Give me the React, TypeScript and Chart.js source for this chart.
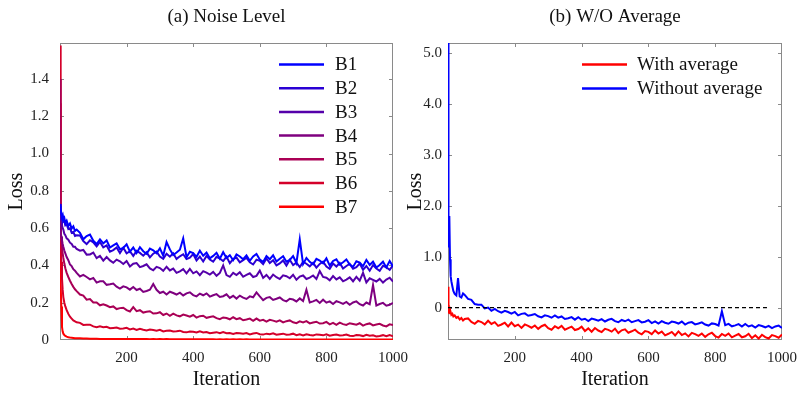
import React, { useEffect, useRef } from 'react';
import { Chart, registerables } from 'chart.js';

Chart.register(...registerables);

const FONT = '"Liberation Serif", "Times New Roman", serif';

// Iterations (x values) shared by all curves
const ITER = [
  0, 1, 2, 3, 4, 6, 8, 10, 13, 16, 20, 25, 30, 35, 40, 45, 50,
  60, 70, 80, 90, 100, 110, 120, 130, 140, 150,
  160, 170, 180, 190, 200, 210, 220, 230, 240, 250,
  260, 270, 280, 290, 300, 310, 320, 330, 340, 350,
  360, 370, 380, 390, 400, 410, 420, 430, 440, 450,
  460, 470, 480, 490, 500, 510, 520, 530, 540, 550,
  560, 570, 580, 590, 600, 610, 620, 630, 640, 650,
  660, 670, 680, 690, 700, 710, 720, 730, 740, 750,
  760, 770, 780, 790, 800, 810, 820, 830, 840, 850,
  860, 870, 880, 890, 900, 910, 920, 930, 940, 950,
  960, 970, 980, 990, 1000,
];

// (a) Noise Level
const B_LABELS = ['B1', 'B2', 'B3', 'B4', 'B5', 'B6', 'B7'];
const B_COLORS = ['#0000ff', '#2a00d4', '#5500aa', '#7f007f', '#aa0055', '#d4002a', '#ff0000'];

const B1 = [
  0.73, 0.715, 0.70, 0.705, 0.68, 0.665, 0.672, 0.645, 0.655, 0.628, 0.64, 0.612, 0.625, 0.598, 0.61, 0.585, 0.592,
  0.575, 0.540, 0.558, 0.566, 0.532, 0.515, 0.540, 0.518, 0.534, 0.496,
  0.507, 0.518, 0.487, 0.494, 0.513, 0.474, 0.496, 0.466, 0.498, 0.476,
  0.462, 0.490, 0.481, 0.465, 0.492, 0.452, 0.525, 0.486, 0.456, 0.469,
  0.484, 0.545, 0.444, 0.473, 0.466, 0.446, 0.479, 0.452, 0.469, 0.438,
  0.451, 0.468, 0.436, 0.471, 0.440, 0.455, 0.428, 0.459, 0.448, 0.433,
  0.454, 0.425, 0.448, 0.461, 0.432, 0.419, 0.450, 0.433, 0.454, 0.421,
  0.436, 0.449, 0.420, 0.429, 0.450, 0.413, 0.540, 0.407, 0.440, 0.419,
  0.406, 0.435, 0.426, 0.411, 0.438, 0.399, 0.424, 0.433, 0.404, 0.417,
  0.432, 0.405, 0.392, 0.422, 0.415, 0.396, 0.429, 0.403, 0.420, 0.389,
  0.402, 0.420, 0.389, 0.424, 0.394,
];
const B2 = [
  0.72, 0.70, 0.695, 0.68, 0.675, 0.655, 0.66, 0.635, 0.64, 0.615, 0.62, 0.595, 0.6, 0.575, 0.58, 0.558, 0.562,
  0.561, 0.531, 0.514, 0.535, 0.524, 0.502, 0.526, 0.497, 0.507, 0.474,
  0.482, 0.496, 0.466, 0.495, 0.465, 0.476, 0.451, 0.478, 0.467, 0.452,
  0.470, 0.443, 0.463, 0.474, 0.448, 0.435, 0.463, 0.447, 0.465, 0.435,
  0.449, 0.460, 0.434, 0.442, 0.461, 0.427, 0.447, 0.421, 0.451, 0.432,
  0.420, 0.446, 0.437, 0.423, 0.447, 0.412, 0.434, 0.442, 0.416, 0.428,
  0.441, 0.417, 0.405, 0.431, 0.425, 0.407, 0.437, 0.413, 0.428, 0.400,
  0.411, 0.427, 0.399, 0.430, 0.402, 0.415, 0.391, 0.419, 0.409, 0.395,
  0.414, 0.388, 0.408, 0.420, 0.394, 0.382, 0.410, 0.394, 0.413, 0.383,
  0.397, 0.408, 0.382, 0.391, 0.410, 0.377, 0.397, 0.372, 0.402, 0.383,
  0.371, 0.398, 0.390, 0.376, 0.401,
];
const B3 = [
  0.70, 0.685, 0.665, 0.655, 0.635, 0.615, 0.6, 0.592, 0.57, 0.562, 0.545, 0.538, 0.522, 0.515, 0.5, 0.5, 0.488,
  0.479, 0.483, 0.458, 0.459, 0.469, 0.439, 0.451, 0.426, 0.445, 0.427,
  0.414, 0.431, 0.422, 0.408, 0.424, 0.394, 0.409, 0.413, 0.391, 0.397,
  0.406, 0.384, 0.374, 0.392, 0.386, 0.371, 0.393, 0.373, 0.383, 0.360,
  0.368, 0.380, 0.357, 0.381, 0.358, 0.368, 0.348, 0.369, 0.361, 0.351,
  0.365, 0.344, 0.360, 0.400, 0.348, 0.339, 0.360, 0.348, 0.363, 0.339,
  0.349, 0.358, 0.338, 0.344, 0.372, 0.333, 0.349, 0.328, 0.351, 0.337,
  0.327, 0.347, 0.342, 0.331, 0.350, 0.323, 0.340, 0.346, 0.327, 0.335,
  0.346, 0.327, 0.370, 0.338, 0.334, 0.320, 0.343, 0.325, 0.336, 0.315,
  0.324, 0.336, 0.315, 0.339, 0.318, 0.360, 0.309, 0.331, 0.323, 0.314,
  0.328, 0.308, 0.324, 0.334, 0.313,
];
const B4 = [
  0.62, 0.6, 0.585, 0.57, 0.555, 0.535, 0.515, 0.5, 0.48, 0.465, 0.445, 0.428, 0.405, 0.396, 0.38, 0.372, 0.36,
  0.341, 0.349, 0.338, 0.325, 0.333, 0.308, 0.315, 0.315, 0.296, 0.299,
  0.303, 0.286, 0.276, 0.288, 0.282, 0.270, 0.284, 0.268, 0.275, 0.258,
  0.263, 0.270, 0.300, 0.269, 0.252, 0.259, 0.244, 0.259, 0.252, 0.244,
  0.254, 0.239, 0.250, 0.256, 0.241, 0.234, 0.249, 0.240, 0.250, 0.233,
  0.240, 0.246, 0.231, 0.235, 0.245, 0.226, 0.237, 0.222, 0.238, 0.227,
  0.220, 0.234, 0.229, 0.255, 0.234, 0.214, 0.226, 0.230, 0.215, 0.221,
  0.228, 0.214, 0.207, 0.221, 0.217, 0.207, 0.223, 0.209, 0.270, 0.201,
  0.207, 0.215, 0.199, 0.216, 0.200, 0.207, 0.193, 0.208, 0.202, 0.194,
  0.204, 0.189, 0.201, 0.207, 0.192, 0.185, 0.201, 0.192, 0.295, 0.185,
  0.193, 0.199, 0.184, 0.189, 0.199,
];
const B5 = [
  1.4, 0.85, 0.65, 0.58, 0.545, 0.5, 0.465, 0.44, 0.41, 0.385, 0.36, 0.338, 0.318, 0.3, 0.285, 0.272, 0.262,
  0.244, 0.238, 0.216, 0.220, 0.201, 0.201, 0.186, 0.192, 0.185, 0.176,
  0.180, 0.166, 0.171, 0.173, 0.160, 0.153, 0.176, 0.155, 0.160, 0.147,
  0.151, 0.154, 0.142, 0.143, 0.149, 0.134, 0.142, 0.130, 0.141, 0.132,
  0.127, 0.136, 0.131, 0.125, 0.134, 0.120, 0.128, 0.130, 0.119, 0.123,
  0.127, 0.117, 0.112, 0.121, 0.118, 0.111, 0.122, 0.112, 0.117, 0.106,
  0.110, 0.115, 0.103, 0.115, 0.104, 0.108, 0.098, 0.108, 0.104, 0.098,
  0.105, 0.094, 0.101, 0.105, 0.095, 0.090, 0.100, 0.094, 0.101, 0.089,
  0.094, 0.098, 0.088, 0.090, 0.097, 0.084, 0.092, 0.081, 0.093, 0.085,
  0.081, 0.090, 0.086, 0.082, 0.090, 0.077, 0.085, 0.089, 0.078, 0.083,
  0.087, 0.078, 0.073, 0.084, 0.080,
];
const B6 = [
  1.58, 1.0, 0.7, 0.52, 0.42, 0.33, 0.27, 0.23, 0.2, 0.18, 0.16, 0.14, 0.125, 0.115, 0.105, 0.1, 0.095,
  0.092, 0.081, 0.082, 0.082, 0.073, 0.069, 0.073, 0.068, 0.071, 0.063,
  0.065, 0.067, 0.061, 0.062, 0.065, 0.057, 0.061, 0.054, 0.060, 0.055,
  0.051, 0.056, 0.054, 0.050, 0.055, 0.046, 0.050, 0.051, 0.046, 0.047,
  0.050, 0.043, 0.041, 0.046, 0.044, 0.040, 0.046, 0.040, 0.043, 0.036,
  0.039, 0.042, 0.036, 0.042, 0.036, 0.038, 0.033, 0.038, 0.036, 0.033,
  0.037, 0.030, 0.035, 0.038, 0.031, 0.029, 0.034, 0.031, 0.036, 0.028,
  0.031, 0.034, 0.028, 0.030, 0.034, 0.026, 0.031, 0.025, 0.031, 0.027,
  0.024, 0.030, 0.028, 0.025, 0.031, 0.023, 0.027, 0.029, 0.024, 0.026,
  0.029, 0.023, 0.021, 0.027, 0.025, 0.021, 0.028, 0.023, 0.025, 0.019,
  0.022, 0.026, 0.020, 0.026, 0.020,
];
const B7 = [
  1.27, 0.85, 0.55, 0.3, 0.18, 0.07, 0.045, 0.034, 0.027, 0.022, 0.018, 0.015, 0.013, 0.012, 0.011, 0.01, 0.009,
  0.009, 0.008, 0.008, 0.007, 0.007, 0.007, 0.006, 0.006, 0.006, 0.006,
  0.006, 0.005, 0.006, 0.005, 0.005, 0.005, 0.005, 0.005, 0.005, 0.005,
  0.005, 0.004, 0.005, 0.004, 0.005, 0.004, 0.005, 0.004, 0.004, 0.004,
  0.004, 0.004, 0.004, 0.004, 0.004, 0.004, 0.004, 0.004, 0.004, 0.004,
  0.004, 0.003, 0.004, 0.003, 0.004, 0.003, 0.004, 0.003, 0.004, 0.003,
  0.004, 0.003, 0.003, 0.003, 0.003, 0.003, 0.003, 0.003, 0.003, 0.003,
  0.003, 0.003, 0.003, 0.003, 0.003, 0.003, 0.003, 0.003, 0.003, 0.003,
  0.003, 0.003, 0.003, 0.003, 0.003, 0.003, 0.003, 0.003, 0.003, 0.003,
  0.003, 0.003, 0.003, 0.003, 0.003, 0.003, 0.003, 0.003, 0.003, 0.003,
  0.003, 0.003, 0.003, 0.003, 0.003,
];
const B_SERIES = [B1, B2, B3, B4, B5, B6, B7];

// (b) W/O Average
const WITH_AVG = [
  0.41, 0.05, -0.06, -0.1, -0.07, -0.11, -0.09, -0.14, -0.12, -0.17, -0.15, -0.2, -0.18, -0.23, -0.2, -0.25, -0.22,
  -0.21, -0.278, -0.315, -0.258, -0.281, -0.327, -0.255, -0.319, -0.283, -0.356,
  -0.329, -0.294, -0.366, -0.29, -0.363, -0.332, -0.395, -0.328, -0.356, -0.392,
  -0.348, -0.414, -0.363, -0.335, -0.401, -0.431, -0.363, -0.402, -0.356, -0.432,
  -0.399, -0.37, -0.437, -0.418, -0.371, -0.456, -0.405, -0.471, -0.399, -0.447,
  -0.477, -0.413, -0.434, -0.469, -0.41, -0.498, -0.443, -0.424, -0.49, -0.462,
  -0.43, -0.491, -0.521, -0.458, -0.474, -0.518, -0.445, -0.507, -0.469, -0.541,
  -0.511, -0.474, -0.544, -0.465, -0.536, -0.503, -0.563, -0.493, -0.518, -0.553,
  -0.506, -0.571, -0.52, -0.49, -0.556, -0.585, -0.515, -0.553, -0.506, -0.58,
  -0.546, -0.516, -0.58, -0.56, -0.511, -0.594, -0.541, -0.605, -0.53, -0.576,
  -0.603, -0.537, -0.556, -0.589, -0.527,
];
const WITHOUT_AVG = [
  5.25, 4.2, 1.35, 1.2, 1.8, 0.95, 0.62, 0.52, 0.42, 0.33, 0.27, 0.24, 0.58, 0.22, 0.2, 0.28, 0.25,
  0.173, 0.154, 0.072, 0.057, 0.06, -0.014, 0.002, -0.06, -0.024, -0.069,
  -0.097, -0.062, -0.084, -0.115, -0.083, -0.15, -0.121, -0.111, -0.158, -0.142,
  -0.123, -0.167, -0.19, -0.15, -0.164, -0.196, -0.15, -0.194, -0.172, -0.222,
  -0.206, -0.184, -0.234, -0.185, -0.235, -0.216, -0.26, -0.214, -0.232, -0.256,
  -0.225, -0.27, -0.237, -0.219, -0.264, -0.285, -0.24, -0.266, -0.235, -0.285,
  -0.263, -0.244, -0.288, -0.275, -0.244, -0.301, -0.268, -0.312, -0.263, -0.295,
  -0.315, -0.272, -0.286, -0.31, -0.271, -0.33, -0.294, -0.282, -0.327, -0.309,
  -0.288, -0.33, -0.35, -0.308, -0.32, -0.349, -0.07, -0.342, -0.318, -0.365,
  -0.346, -0.322, -0.37, -0.319, -0.367, -0.346, -0.388, -0.342, -0.36, -0.384,
  -0.355, -0.4, -0.367, -0.35, -0.397,
];
const AVG_LABELS = ['With average', 'Without average'];
const AVG_COLORS = ['#ff0000', '#0000ff'];
const REF_X = [0, 955];
const REF_Y = [0, 0];

const X_TICK_STEP = 200;

const toPoints = (xs: number[], ys: number[]) => xs.map((x, i) => ({ x, y: ys[i] }));

const decorPlugin = {
  id: 'decor',
  beforeDatasetsDraw(chart: any) {
    const { ctx, chartArea } = chart;
    const { left, right, top, bottom } = chartArea;
    ctx.save();
    ctx.strokeStyle = '#8a8a8a';
    ctx.lineWidth = 1;
    ctx.strokeRect(Math.round(left) + 0.5, Math.round(top) + 0.5, Math.round(right - left) - 1, Math.round(bottom - top) - 1);
    const xs = chart.scales.x;
    const ys = chart.scales.y;
    const tl = 4;
    ctx.beginPath();
    xs.ticks.forEach((t: any) => {
      const p = Math.round(xs.getPixelForValue(t.value)) + 0.5;
      if (p <= left + 1 || p >= right - 1) return;
      ctx.moveTo(p, bottom);
      ctx.lineTo(p, bottom - tl);
      ctx.moveTo(p, top);
      ctx.lineTo(p, top + tl);
    });
    ys.ticks.forEach((t: any) => {
      const p = Math.round(ys.getPixelForValue(t.value)) + 0.5;
      if (p <= top + 1 || p >= bottom - 1) return;
      ctx.moveTo(left, p);
      ctx.lineTo(left + tl, p);
      ctx.moveTo(right, p);
      ctx.lineTo(right - tl, p);
    });
    ctx.stroke();
    ctx.restore();
  },
  afterDraw(chart: any, _args: any, opts: any) {
    const { ctx, chartArea } = chart;
    const { left, right } = chartArea;
    ctx.save();
    ctx.fillStyle = '#111';
    ctx.font = `19px ${FONT}`;
    ctx.textAlign = 'center';
    ctx.textBaseline = 'middle';
    ctx.fillText(opts.title, (left + right) / 2, 17);
    const lg = opts.legend;
    ctx.font = `${lg.fontSize}px ${FONT}`;
    ctx.textAlign = 'left';
    lg.labels.forEach((lab: string, i: number) => {
      const y = lg.y + i * lg.spacing;
      ctx.strokeStyle = lg.colors[i];
      ctx.lineWidth = 2.5;
      ctx.beginPath();
      ctx.moveTo(lg.x, y);
      ctx.lineTo(lg.x + lg.len, y);
      ctx.stroke();
      ctx.fillStyle = '#111';
      ctx.fillText(lab, lg.x + lg.len + lg.gap, y + 1);
    });
    ctx.restore();
  },
};

function baseOptions(cfg: any) {
  return {
    responsive: false,
    animation: false,
    devicePixelRatio: 1,
    layout: { padding: cfg.padding },
    plugins: {
      legend: { display: false },
      tooltip: { enabled: false },
      decor: cfg.decor,
    },
    elements: { point: { radius: 0 }, line: { tension: 0 } },
    scales: {
      x: {
        type: 'linear',
        min: 0,
        max: 1000,
        grid: { display: false, drawTicks: false },
        border: { display: false },
        afterFit: (s: any) => { s.height = 55; s.paddingLeft = 0; s.paddingRight = 0; },
        ticks: {
          stepSize: X_TICK_STEP,
          padding: 9,
          color: '#222',
          maxRotation: 0,
          autoSkip: false,
          includeBounds: false,
          font: { family: FONT, size: 15 },
          callback: (v: any) => (v === 0 ? '' : String(v)),
        },
        title: {
          display: true,
          text: 'Iteration',
          color: '#111',
          font: { family: FONT, size: 20 },
          padding: { top: 0, bottom: 3 },
        },
      },
      y: {
        type: 'linear',
        min: cfg.yMin,
        max: cfg.yMax,
        grid: { display: false, drawTicks: false },
        border: { display: false },
        afterFit: (s: any) => { s.width = cfg.yWidth; s.paddingTop = 0; s.paddingBottom = 0; },
        ticks: {
          stepSize: cfg.yStep,
          padding: cfg.yPad,
          color: '#222',
          autoSkip: false,
          includeBounds: false,
          font: { family: FONT, size: 15 },
          callback: (v: any) => (Math.abs(v) < 1e-9 ? '0' : Number(v).toFixed(1)),
        },
        title: {
          display: true,
          text: 'Loss',
          color: '#111',
          font: { family: FONT, size: 20 },
          padding: { top: cfg.lossPad, bottom: 0 },
        },
      },
    },
  };
}

function NoiseChart() {
  const ref = useRef<HTMLCanvasElement>(null);
  useEffect(() => {
    const datasets = B_SERIES.map((s, i) => ({
      label: B_LABELS[i],
      data: toPoints(ITER, s),
      borderColor: B_COLORS[i],
      borderWidth: 2,
      pointRadius: 0,
      fill: false,
    }));
    const chart = new Chart(ref.current as HTMLCanvasElement, {
      type: 'line',
      data: { datasets },
      options: baseOptions({
        padding: { top: 43, right: 27, left: 0, bottom: 0 },
        yMin: 0, yMax: 1.593, yStep: 0.2, yWidth: 60, yPad: 11, lossPad: 5,
        decor: {
          title: '(a) Noise Level',
          legend: { labels: B_LABELS, colors: B_COLORS, x: 279, y: 64.5, spacing: 23.7, len: 45, gap: 11, fontSize: 19 },
        },
      }) as any,
      plugins: [decorPlugin],
    });
    return () => chart.destroy();
  }, []);
  return (
    <canvas ref={ref} width={420} height={395}
      style={{ position: 'absolute', left: 0, top: 0, width: 420, height: 395 }} />
  );
}

function AvgChart() {
  const ref = useRef<HTMLCanvasElement>(null);
  useEffect(() => {
    const datasets = [
      {
        label: 'zero',
        data: toPoints(REF_X, REF_Y),
        borderColor: '#000',
        borderWidth: 1.2,
        borderDash: [4, 3],
        pointRadius: 0,
        fill: false,
      },
      {
        label: AVG_LABELS[0],
        data: toPoints(ITER, WITH_AVG),
        borderColor: AVG_COLORS[0],
        borderWidth: 2,
        pointRadius: 0,
        fill: false,
      },
      {
        label: AVG_LABELS[1],
        data: toPoints(ITER, WITHOUT_AVG),
        borderColor: AVG_COLORS[1],
        borderWidth: 2,
        pointRadius: 0,
        fill: false,
      },
    ];
    const chart = new Chart(ref.current as HTMLCanvasElement, {
      type: 'line',
      data: { datasets },
      options: baseOptions({
        padding: { top: 43, right: 16, left: 0, bottom: 0 },
        yMin: -0.633, yMax: 5.19, yStep: 1, yWidth: 48, yPad: 6, lossPad: 3.5,
        decor: {
          title: '(b) W/O Average',
          legend: { labels: AVG_LABELS, colors: AVG_COLORS, x: 182, y: 64.5, spacing: 24, len: 45, gap: 10, fontSize: 19 },
        },
      }) as any,
      plugins: [decorPlugin],
    });
    return () => chart.destroy();
  }, []);
  return (
    <canvas ref={ref} width={398} height={395}
      style={{ position: 'absolute', left: 400, top: 0, width: 398, height: 395 }} />
  );
}

export default function App() {
  return (
    <div style={{ position: 'absolute', left: 0, top: 0, width: 798, height: 395, background: '#fff', overflow: 'hidden' }}>
      <NoiseChart />
      <AvgChart />
    </div>
  );
}
